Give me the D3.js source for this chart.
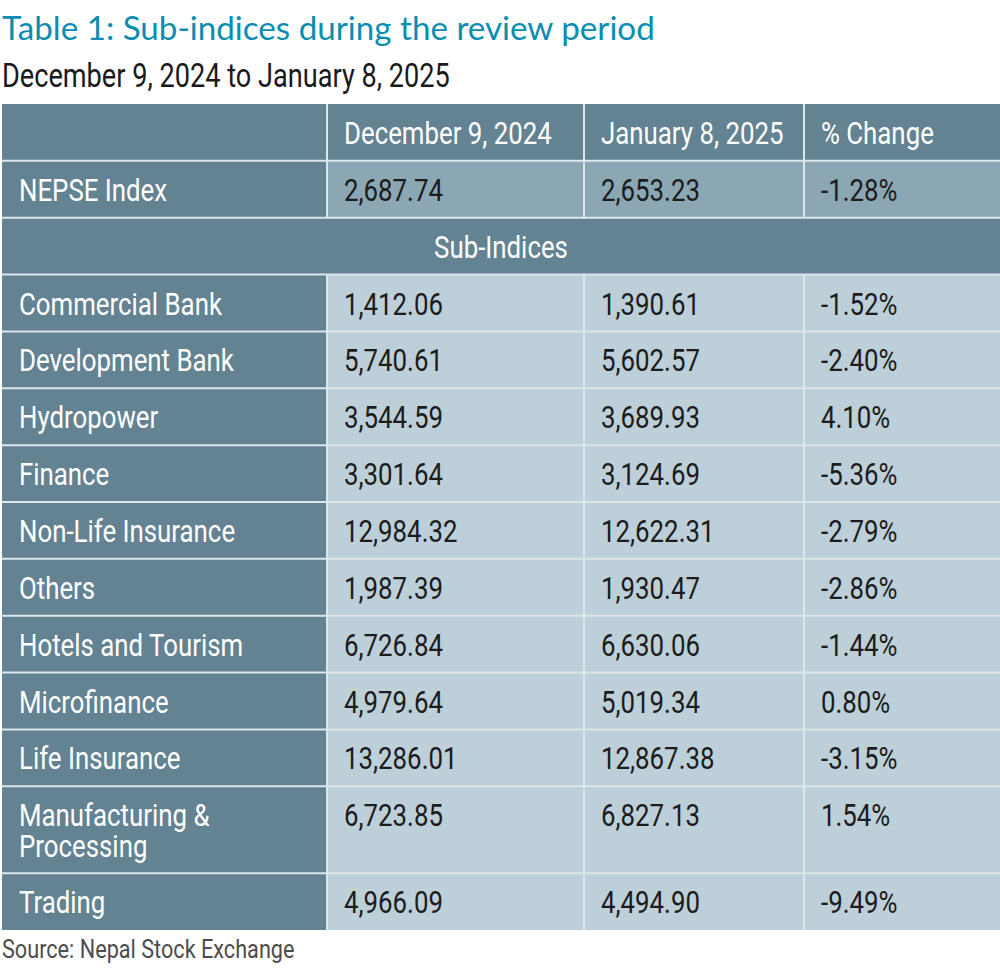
<!DOCTYPE html>
<html><head><meta charset="utf-8">
<script src="https://cdn.jsdelivr.net/npm/d3@7"></script>
<style>
html,body{margin:0;padding:0;background:#fff;}
svg{display:block;}
</style></head>
<body>
<script>
// ---- data ----
const title = "Table 1: Sub-indices during the review period";
const subtitle = "December 9, 2024 to January 8, 2025";
const source = "Source: Nepal Stock Exchange";
const columnHeaders = ["", "December 9, 2024", "January 8, 2025", "% Change"];
const indexName = "NEPSE Index";
const indexValues = ["2,687.74", "2,653.23", "-1.28%"];
const sectionLabel = "Sub-Indices";
const categories = ["Commercial Bank", "Development Bank", "Hydropower", "Finance",
  "Non-Life Insurance", "Others", "Hotels and Tourism", "Microfinance", "Life Insurance",
  "Manufacturing &\nProcessing", "Trading"];
const dec9 = [1412.06, 5740.61, 3544.59, 3301.64, 12984.32, 1987.39, 6726.84, 4979.64, 13286.01, 6723.85, 4966.09];
const jan8 = [1390.61, 5602.57, 3689.93, 3124.69, 12622.31, 1930.47, 6630.06, 5019.34, 12867.38, 6827.13, 4494.90];
const pctChange = [-1.52, -2.40, 4.10, -5.36, -2.79, -2.86, -1.44, 0.80, -3.15, 1.54, -9.49];

(function(){
const W = 1000, H = 976;
const dark = "#648392", mid = "#8ba7b4", light = "#bdcfd9", gridC = "#dce6ec";
const fontT = "Roboto, 'DejaVu Sans Condensed', sans-serif";
const svg = d3.select("body").append("svg").attr("width", W).attr("height", H);

const loc = d3.formatLocale({decimal: ".", thousands: ",", grouping: [3], currency: ["", ""], minus: "-"});
const fmt = loc.format(",.2f");
const pfmt = v => loc.format(".2f")(v) + "%";

const rows = [];
rows.push({type: "header", cells: columnHeaders, lines: 1});
rows.push({type: "index", cells: [indexName, ...indexValues], lines: 1});
rows.push({type: "section", cells: [sectionLabel], lines: 1});
categories.forEach((c, i) => rows.push({type: "body", cells: [c, fmt(dec9[i]), fmt(jan8[i]), pfmt(pctChange[i])], lines: c.split("\n").length}));

const tableTop = 104, tableBottom = 930, extraLine = 30;
const extra = d3.sum(rows, r => r.lines - 1) * extraLine;
const rowH = (tableBottom - tableTop - extra) / rows.length;
let yy = tableTop;
rows.forEach(r => { r.y = yy; r.h = rowH + (r.lines - 1) * extraLine; yy += r.h; });

const colEdges = [2, 327, 584, 804, 1000];
const x = d3.scaleOrdinal().domain([0,1,2,3]).range(colEdges.slice(0,4));

function squeeze(sel, s, x0) {
  sel.attr("transform", `translate(${x0},0) scale(${s},1) translate(${-x0},0)`);
}
function fit(sel, target, x0) {
  squeeze(sel, target / sel.node().getComputedTextLength(), x0);
}

const tt = svg.append("text").attr("x", 2).attr("y", 40).text(title)
  .attr("fill", "#0a8db0").attr("font-family", "Lato, 'Noto Sans', sans-serif")
  .attr("font-size", 33);
fit(tt, 653, 2);
const st = svg.append("text").attr("x", 2).attr("y", 87).text(subtitle)
  .attr("fill", "#1a1a1a").attr("font-family", fontT).attr("font-size", 33);
fit(st, 448, 2);

const g = svg.append("g");
rows.forEach(r => {
  if (r.type === "section") {
    g.append("rect").attr("x", colEdges[0]).attr("y", r.y).attr("width", colEdges[4]-colEdges[0]).attr("height", r.h).attr("fill", dark);
    return;
  }
  for (let c = 0; c < 4; c++) {
    let fill = dark;
    if (c > 0 && r.type === "index") fill = mid;
    if (c > 0 && r.type === "body") fill = light;
    g.append("rect").attr("x", colEdges[c]).attr("y", r.y)
      .attr("width", colEdges[c+1]-colEdges[c]).attr("height", r.h).attr("fill", fill);
  }
});
rows.forEach((r, i) => {
  if (i > 0) g.append("line").attr("x1", colEdges[0]).attr("x2", colEdges[4]).attr("y1", r.y).attr("y2", r.y)
      .attr("stroke", gridC).attr("stroke-width", 2);
  if (r.type !== "section") {
    [1,2,3].forEach(c => g.append("line").attr("x1", colEdges[c]).attr("x2", colEdges[c]).attr("y1", r.y).attr("y2", r.y + r.h)
      .attr("stroke", gridC).attr("stroke-width", 2));
  }
});

const fs = 31, fw = 400;
const probe = svg.append("text").attr("font-family", fontT).attr("font-weight", fw).attr("font-size", fs).text(columnHeaders[1]);
const sq = 208 / probe.node().getComputedTextLength();
probe.remove();

rows.forEach(r => {
  if (r.type === "section") {
    const cx = (colEdges[0]+colEdges[4])/2;
    const t = g.append("text").attr("x", cx).attr("y", r.y + 40)
      .attr("text-anchor", "middle").attr("fill", "#fff").attr("font-family", fontT)
      .attr("font-weight", fw).attr("font-size", fs).text(r.cells[0]);
    squeeze(t, sq, cx);
    return;
  }
  r.cells.forEach((t, c) => {
    const white = (c === 0 || r.type === "header");
    const x0 = x(c) + 17;
    const lines = t.split("\n");
    lines.forEach((ln, k) => {
      const te = g.append("text").attr("x", x0).attr("y", r.y + 40 + k * 31)
        .attr("fill", white ? "#fff" : "#1c1c1c").attr("font-family", fontT)
        .attr("font-weight", fw).attr("font-size", fs).text(ln);
      squeeze(te, sq, x0);
    });
  });
});

const src = svg.append("text").attr("x", 2).attr("y", 958).text(source)
  .attr("fill", "#4d4d4d").attr("font-family", fontT).attr("font-size", 26);
squeeze(src, sq, 2);
})();
</script>
</body></html>
